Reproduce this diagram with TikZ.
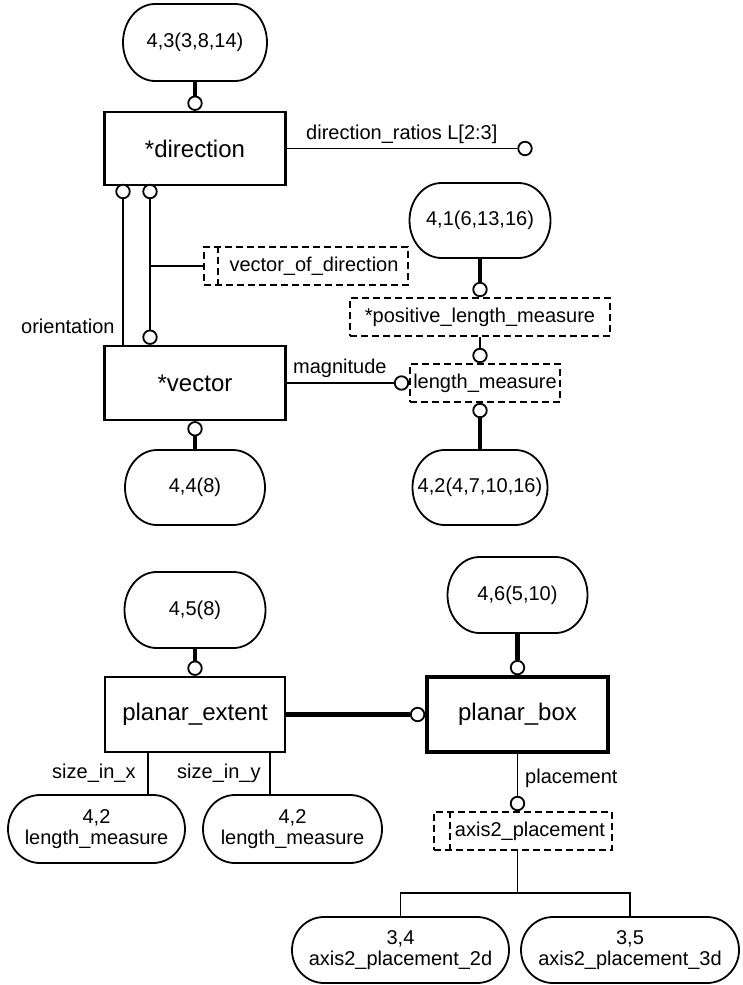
\documentclass[tikz,border=0pt]{standalone}
\usepackage{fontspec}
\setmainfont{Liberation Sans}
% outline of a reference node: straight top and bottom, elliptic ends
\newcommand\drawstadium[2]{%
  \draw[refline] ([xshift=32pt]#1.north west) -- ([xshift=-32pt]#1.north east)
    arc[start angle=90, end angle=-90, x radius=32pt, y radius=#2pt]
    -- ([xshift=32pt]#1.south west)
    arc[start angle=270, end angle=90, x radius=32pt, y radius=#2pt] -- cycle;}
\begin{document}
\begin{tikzpicture}[x=1pt,y=-1pt,
  ent/.style={draw, line width=2.3pt, rectangle, inner sep=0pt, font=\fontsize{24}{26}\selectfont},
  ref/.style={rectangle, inner sep=0pt, outer sep=0pt, align=center, font=\fontsize{20}{21}\selectfont},
  refline/.style={line width=1.8pt},
  typ/.style={draw, line width=1.7pt, dash pattern=on 7pt off 4pt, rectangle, inner sep=0pt, minimum height=38pt, font=\fontsize{20}{21}\selectfont},
  circ/.style={draw, line width=1.8pt, circle, fill=white, inner sep=0pt, minimum size=13.5pt},
  lbl/.style={font=\fontsize{20}{21}\selectfont, inner sep=0pt},
  link/.style={line width=1.8pt},
  heavy/.style={line width=4.5pt},
  inner/.style={line width=1.7pt, dash pattern=on 7pt off 4pt},
]
\useasboundingbox (0,0) rectangle (743,985);

% ---- upper group: direction / vector ----
\node[ref, minimum width=144pt, minimum height=77pt] (e43) at (195,42.5) {4,3(3,8,14)};
\node[ent, minimum width=181pt, minimum height=73pt] (dir) at (195,148.5) {*direction};
\node[ref, minimum width=141pt, minimum height=75pt] (e41) at (480,220.5) {4,1(6,13,16)};
\node[typ, minimum width=204pt] (vod) at (306,266) {};
\node[lbl] (vodt) at (314,266) {vector\_of\_direction};
\node[typ, minimum width=260pt] (plm) at (480,317) {*positive\_length\_measure};
\node[typ, minimum width=150pt] (lm) at (485,383) {length\_measure};
\node[ent, minimum width=181pt, minimum height=74pt] (vec) at (195,383) {*vector};
\node[ref, minimum width=140pt, minimum height=75pt] (e44) at (195,487.5) {4,4(8)};
\node[ref, minimum width=135pt, minimum height=75pt] (e42a) at (480,487.5) {4,2(4,7,10,16)};

% ---- lower group: planar_extent / planar_box ----
\node[ref, minimum width=141pt, minimum height=76pt] (e45) at (195,610) {4,5(8)};
\node[ref, minimum width=140pt, minimum height=76pt] (e46) at (517.5,595) {4,6(5,10)};
\node[ent, minimum width=180pt, minimum height=75pt] (pe) at (195,714.5) {planar\_extent};
\node[ent, line width=3.5pt, minimum width=181pt, minimum height=75pt] (pb) at (517.5,714.5) {planar\_box};
\node[ref, minimum width=177pt, minimum height=68pt] (e42b) at (96.5,829) {4,2\\length\_measure};
\node[ref, minimum width=179pt, minimum height=68pt] (e42c) at (292.5,829) {4,2\\length\_measure};
\node[typ, minimum width=178pt] (a2p) at (523,831) {};
\node[lbl] (a2pt) at (530,831) {axis2\_placement};
\node[ref, minimum width=217pt, minimum height=66pt] (e34) at (400.5,950) {3,4\\axis2\_placement\_2d};
\node[ref, minimum width=218pt, minimum height=66pt] (e35) at (630,950) {3,5\\axis2\_placement\_3d};

% outlines of the reference nodes
\drawstadium{e43}{38.5}
\drawstadium{e41}{37.5}
\drawstadium{e44}{37.5}
\drawstadium{e42a}{37.5}
\drawstadium{e45}{38}
\drawstadium{e46}{38}
\drawstadium{e42b}{34}
\drawstadium{e42c}{34}
\drawstadium{e34}{33}
\drawstadium{e35}{33}

% inner marks of the defined-type boxes
\draw[inner] ([xshift=15pt]vod.north west) -- ([xshift=15pt]vod.south west);
\draw[inner] ([xshift=17pt]a2p.north west) -- ([xshift=17pt]a2p.south west);

% ---- relationship circles ----
\node[circ, anchor=south] (c1) at (dir.north) {};
\node[circ] (c2) at (525,148.5) {};
\node[circ] (c3) at (123,191.5) {};
\node[circ] (c4) at (150,191.5) {};
\node[circ, anchor=south] (c5) at (vec.north -| c4) {};
\node[circ, anchor=south] (c6) at (plm.north -| e41) {};
\node[circ, anchor=south] (c7) at (lm.north -| e41) {};
\node[circ, anchor=north] (c8) at (lm.south -| e41) {};
\node[circ, anchor=east] (c9) at (lm.west) {};
\node[circ, anchor=north] (c10) at (vec.south) {};
\node[circ, anchor=south] (c11) at (pe.north) {};
\node[circ, anchor=east] (c12) at (pb.west) {};
\node[circ, anchor=south] (c13) at (pb.north) {};
\node[circ, anchor=south] (c14) at (a2p.north -| pb) {};

% ---- connectors ----
\draw[heavy] (e43) -- (c1);
\draw[link] (dir.east) -- (c2);
\draw[link] (c3) -- (c3 |- vec.north);
\draw[link] (c4) -- (c5);
\draw[link] (vod.west) -- (vod.west -| c4);
\draw[heavy] (e41) -- (c6);
\draw[link] (plm) -- (c7);
\draw[heavy] (c8) -- (e42a);
\draw[link] (vec.east) -- (c9);
\draw[heavy] (c10) -- (e44);
\draw[heavy] (e45) -- (c11);
\draw[heavy] (pe.east) -- (c12);
\draw[heavy] (e46) -- (c13);
\draw[link] (pb) -- (c14);

\coordinate (sx) at (148,752);
\coordinate (sy) at (270,752);
\draw[link] (pe.south -| sx) -- (e42b.north -| sx);
\draw[link] (pe.south -| sy) -- (e42c.north -| sy);

\coordinate (fork) at (517.5,893);
\draw[link] (a2p.south -| fork) -- (fork);
\draw[link] (e34.north) |- (fork) -| (e35.north);

% ---- role labels ----
\node[lbl, anchor=base west] (ldr) at (306,139) {direction\_ratios L[2:3]};
\node[lbl, anchor=base west] (lor) at (21,333) {orientation};
\node[lbl, anchor=base west] (lmag) at (293,373) {magnitude};
\node[lbl, anchor=base west] (lsx) at (52,778) {size\_in\_x};
\node[lbl, anchor=base west] (lsy) at (177,778) {size\_in\_y};
\node[lbl, anchor=base west] (lpl) at (525,783) {placement};
\end{tikzpicture}
\end{document}
